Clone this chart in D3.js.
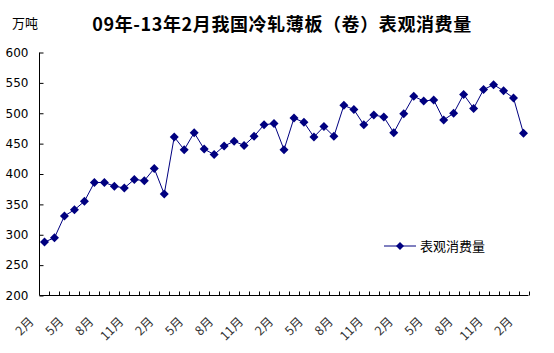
<!DOCTYPE html>
<html><head><meta charset="utf-8">
<script src="https://cdn.jsdelivr.net/npm/d3@7"></script>
<style>body{margin:0;background:#fff}svg{display:block}</style>
</head><body>
<svg id="c" width="554" height="353"></svg>
<script>
const title = "09年-13年2月我国冷轧薄板（卷）表观消费量";
const unit = "万吨";
const seriesName = "表观消费量";
// months 2009-02 .. 2013-02
const months = [];
for (let y = 2009; y <= 2013; y++) for (let m = 1; m <= 12; m++) {
  if ((y === 2009 && m < 2) || (y === 2013 && m > 2)) continue;
  months.push(m + "月");
}
const values = [288,295,331,341,355,386,386,380,377,391,389,409,367,
  461,440,468,441,432,446,454,447,462,481,483,440,
  492,485,461,478,462,513,506,481,497,494,468,499,
  528,520,522,489,500,531,508,539,547,537,525,467];
const yTicks = [200,250,300,350,400,450,500,550,600];

const svg = d3.select("#c");
const L = 39.5, R = 528.5, T = 52.5, B = 295.5;
const x = d3.scaleBand().domain(d3.range(values.length)).range([L, R]);
const y = d3.scaleLinear().domain([200, 600]).range([B, T]);
const navy = "#000080";

svg.append("text").attr("x", 282).attr("y", 31).attr("text-anchor", "middle")
  .attr("font-family", "'Noto Sans CJK SC', sans-serif").attr("font-weight", "bold")
  .attr("font-size", 18).attr("letter-spacing", 0.6).attr("fill", "#000").text(title);
svg.append("text").attr("x", 12).attr("y", 28)
  .attr("font-family", "'Noto Sans CJK SC', sans-serif")
  .attr("font-size", 13).attr("fill", "#000").text(unit);

const ya = svg.append("g").attr("transform", `translate(${L},0)`)
  .call(d3.axisLeft(y).tickValues(yTicks).tickSize(-4).tickPadding(11));
ya.select(".domain").attr("stroke", "#000").attr("d", `M-0,${T}V${B}`);
ya.selectAll(".tick line").attr("stroke", "#000");
ya.selectAll(".tick text").attr("font-family", "'DejaVu Sans', sans-serif")
  .attr("font-size", 12).attr("fill", "#000");

// x axis line and boundary ticks
const bounds = d3.range(values.length + 1).map(i => L + x.step() * i);
svg.append("line").attr("x1", L).attr("x2", R).attr("y1", B).attr("y2", B).attr("stroke", "#000");
svg.append("g").selectAll("line").data(bounds.slice(1)).join("line")
  .attr("x1", d => Math.round(d) + 0.5).attr("x2", d => Math.round(d) + 0.5)
  .attr("y1", B).attr("y2", B - 4).attr("stroke", "#000");

svg.append("g").selectAll("text").data(d3.range(0, values.length, 3)).join("text")
  .attr("transform", i => `translate(${x(i) + x.bandwidth()/2 - 10},${B + 27}) rotate(-45)`)
  .attr("text-anchor", "end")
  .attr("font-family", "'Noto Sans CJK SC', sans-serif").attr("font-size", 12.5)
  .attr("fill", "#333").text(i => months[i]);

const line = d3.line().x((d, i) => x(i) + x.bandwidth()/2).y(d => y(d));
svg.append("path").datum(values).attr("d", line).attr("fill", "none")
  .attr("stroke", navy).attr("stroke-width", 1);
const diamond = "M0,-4.5L4.5,0L0,4.5L-4.5,0Z";
svg.append("g").selectAll("path").data(values).join("path")
  .attr("transform", (d, i) => `translate(${x(i) + x.bandwidth()/2},${y(d)})`)
  .attr("d", diamond).attr("fill", navy);

// legend
const lg = svg.append("g").attr("transform", "translate(384,246)");
lg.append("line").attr("x1", 0).attr("x2", 32).attr("y1", 0).attr("y2", 0).attr("stroke", navy);
lg.append("path").attr("transform", "translate(16,0)").attr("d", "M0,-4L4,0L0,4L-4,0Z").attr("fill", navy);
lg.append("text").attr("x", 36).attr("y", 5).attr("font-family", "'Noto Sans CJK SC', sans-serif")
  .attr("font-size", 13).attr("fill", "#000").text(seriesName);
</script>
</body></html>
